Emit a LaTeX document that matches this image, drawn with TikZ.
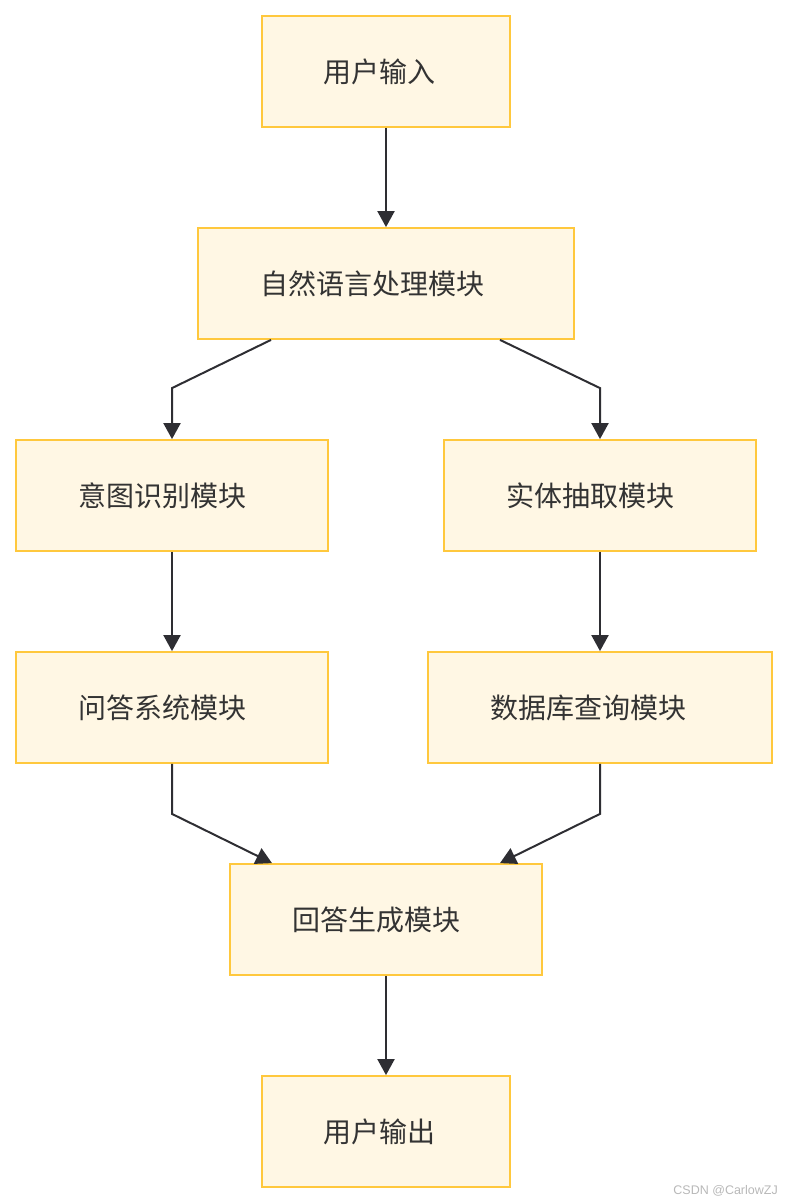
\documentclass[tikz,border=0pt]{standalone}
\usepackage{fontspec}
\setmainfont{Noto Sans CJK SC}
\newfontfamily\wmfont{Liberation Sans}
\usetikzlibrary{arrows.meta,calc}
\definecolor{boxfill}{HTML}{FFF7E4}
\definecolor{boxline}{HTML}{FFC83D}
\definecolor{edgecol}{HTML}{2E2E33}
\definecolor{textcol}{HTML}{333333}
\tikzset{
  flowbox/.style={draw=boxline, fill=boxfill, line width=1.8pt, inner sep=0pt,
    minimum height=111pt, text=textcol, font=\fontsize{28pt}{30pt}\selectfont},
  arr/.style={draw=edgecol, line width=2pt, -{Triangle[length=16pt,width=17pt]}}
}
\begin{document}
\begin{tikzpicture}[x=1pt,y=1pt]
\useasboundingbox (0,0) rectangle (788,-1204);
\node[flowbox, minimum width=248pt] (in) at (386,-71.5) {\hspace*{-14pt}用户输入};
\node[flowbox, minimum width=376pt] (nlp) at (386,-283.5) {\hspace*{-27pt}自然语言处理模块};
\node[flowbox, minimum width=312pt] (intent) at (172,-495.5) {\hspace*{-20pt}意图识别模块};
\node[flowbox, minimum width=312pt] (entity) at (600,-495.5) {\hspace*{-20pt}实体抽取模块};
\node[flowbox, minimum width=312pt] (qa) at (172,-707.5) {\hspace*{-20pt}问答系统模块};
\node[flowbox, minimum width=344pt] (db) at (600,-707.5) {\hspace*{-24pt}数据库查询模块};
\node[flowbox, minimum width=312pt] (ans) at (386,-919.5) {\hspace*{-20pt}回答生成模块};
\node[flowbox, minimum width=248pt] (out) at (386,-1131.5) {\hspace*{-14pt}用户输出};
\coordinate (c1) at ($(intent.north)+(0,51)$);
\coordinate (c2) at ($(entity.north)+(0,51)$);
\coordinate (c3) at ($(qa.south)+(0,-50)$);
\coordinate (c4) at ($(db.south)+(0,-50)$);
\draw[arr] (in.south) -- (nlp.north);
\draw[arr] ($(nlp.south)+(-115,0)$) -- (c1) -- (intent.north);
\draw[arr] ($(nlp.south)+(114,0)$) -- (c2) -- (entity.north);
\draw[arr] (intent.south) -- (qa.north);
\draw[arr] (entity.south) -- (db.north);
\draw[arr] (qa.south) -- (c3) -- ($(ans.north)+(-114,0)$);
\draw[arr] (db.south) -- (c4) -- ($(ans.north)+(114,0)$);
\draw[arr] (ans.south) -- (out.north);
\node[anchor=east, text=black!28, font=\wmfont\fontsize{12.5pt}{13pt}\selectfont, inner sep=0pt] (wm) at (778,-1191) {CSDN @CarlowZJ};
\end{tikzpicture}
\end{document}
